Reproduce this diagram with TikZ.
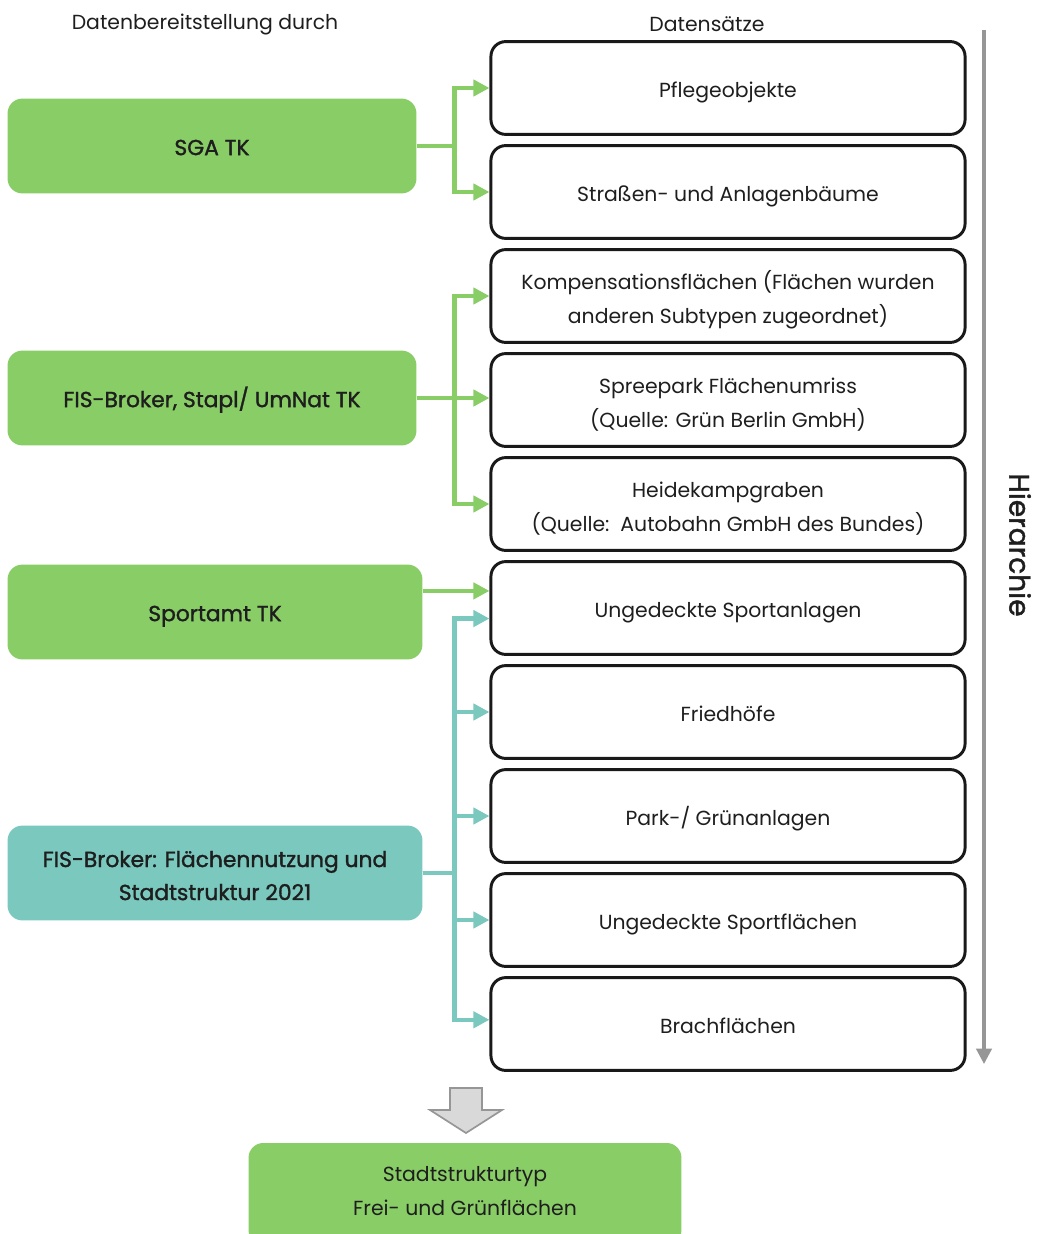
\documentclass[tikz,border=0pt]{standalone}
\usepackage{fontspec}
\setmainfont{Poppins}
\newfontfamily\semifont[FakeBold=1.4]{Poppins}
\usetikzlibrary{arrows.meta}

\definecolor{gruen}{RGB}{137,205,103}
\definecolor{tuerkis}{RGB}{122,200,190}
\definecolor{grau}{RGB}{150,150,150}
\definecolor{hellgrau}{RGB}{217,217,217}
\definecolor{schrift}{RGB}{30,30,30}

\newcommand\hochzeile{\rule{0pt}{19pt}}

\begin{document}
\begin{tikzpicture}[x=0.025cm,y=-0.025cm,
  font=\fontsize{14.5}{24}\selectfont, text=schrift,
  tief/.style={execute at begin node=\rule{0pt}{17pt},
    execute at end node=\rule[-4pt]{0pt}{4pt}},
  satz/.style={draw=black!90, line width=2.1pt, rounded corners=10.5pt,
    minimum width=11.85cm, minimum height=2.32cm, align=center, tief},
  quelle/.style={fill=gruen, rounded corners=10.5pt, minimum width=10.22cm,
    minimum height=2.37cm, align=center, tief,
    font=\semifont\fontsize{15.5}{23.5}\selectfont},
  gpfeil/.style={gruen, line width=3.2pt, -{Triangle[length=11.4pt,width=11.4pt]}},
  tpfeil/.style={tuerkis, line width=3.2pt, -{Triangle[length=11.4pt,width=11.4pt]}}]
\useasboundingbox (0,0) rectangle (1038,1234);

% Kopfzeilen
\node (kopfl) at (205,24) {Datenbereitstellung durch};
\node (kopfr) at (707,24) {Datensätze};

% Datensätze
\node[satz] (pflege) at (728,88) {Pflegeobjekte};
\node[satz] (baeume) at (728,192) {Straßen- und Anlagenbäume};
\node[satz] (kompens) at (728,296) {\hochzeile Kompensationsflächen (Flächen wurden\\anderen Subtypen zugeordnet)};
\node[satz] (spree) at (728,400) {\hochzeile Spreepark Flächenumriss\\(Quelle: Grün Berlin GmbH)};
\node[satz] (heide) at (728,504) {\hochzeile Heidekampgraben\\(Quelle:~~Autobahn GmbH des Bundes)};
\node[satz] (sportanl) at (728,608) {Ungedeckte Sportanlagen};
\node[satz] (fried) at (728,712) {Friedhöfe};
\node[satz] (park) at (728,816) {Park-/ Grünanlagen};
\node[satz] (sportfl) at (728,920) {Ungedeckte Sportflächen};
\node[satz] (brach) at (728,1024) {Brachflächen};

% Quellen
\node[quelle] (sga) at (212,146) {SGA TK};
\node[quelle] (fis) at (212,398) {FIS-Broker, Stapl/ UmNat TK};
\node[quelle, minimum width=10.37cm] (sportamt) at (215,612) {Sportamt TK};
\node[quelle, fill=tuerkis, minimum width=10.37cm] (fisfn) at (215,873) {\hochzeile FIS-Broker: Flächennutzung und\\Stadtstruktur 2021};

% Verbindungen
\draw[gpfeil] (sga.east) -- ++(38,0) |- (pflege.west);
\draw[gpfeil] (sga.east) -- ++(38,0) |- (baeume.west);
\draw[gpfeil] (fis.east) -- ++(38,0) |- (kompens.west);
\draw[gpfeil] (fis.east) -- (spree.west |- fis.east);
\draw[gpfeil] (fis.east) -- ++(38,0) |- (heide.west);
\draw[gpfeil] ([yshift=15pt]sportamt.east) -- ([yshift=15pt]sportamt.east -| sportanl.west);
\draw[tpfeil] (fisfn.east) -- ++(32,0) |- ([yshift=-7.5pt]sportanl.west);
\draw[tpfeil] (fisfn.east) -- ++(32,0) |- (fried.west);
\draw[tpfeil] (fisfn.east) -- ++(32,0) |- (park.west);
\draw[tpfeil] (fisfn.east) -- ++(32,0) |- (sportfl.west);
\draw[tpfeil] (fisfn.east) -- ++(32,0) |- ([yshift=3pt]brach.west);

% Hierarchie
\coordinate (hoben) at (984,30);
\coordinate (hunten) at (984,1064);
\draw[grau, line width=2.2pt, -{Triangle[length=11pt,width=11pt]}] (hoben) -- (hunten);
\node[rotate=-90, font=\semifont\fontsize{20}{22}\selectfont] (hier) at (1020,545) {Hierarchie};

% Ergebnis
\draw[grau, fill=hellgrau, line width=1.2pt] (450,1088) -- (482,1088) -- (482,1110) -- (502,1110)
  -- (466,1133) -- (430,1110) -- (450,1110) -- cycle;
\node[quelle, minimum width=10.82cm, minimum height=2.55cm, font=\fontsize{14.5}{24}\selectfont] (typ) at (465,1194) {Stadtstrukturtyp\\Frei- und Grünflächen};
\end{tikzpicture}
\end{document}
